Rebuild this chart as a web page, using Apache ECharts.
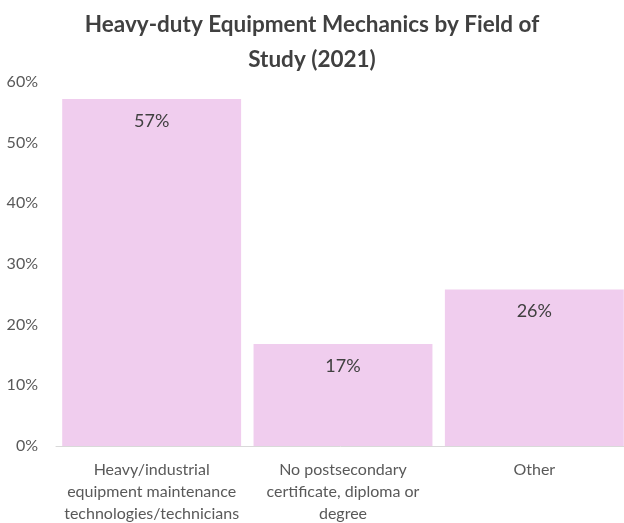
<!DOCTYPE html>
<html><head><meta charset="utf-8">
<script src="https://cdn.jsdelivr.net/npm/echarts@6/dist/echarts.min.js"></script>
<style>html,body{margin:0;padding:0;background:#fff}#c{width:624px;height:523px}</style>
</head><body><div id="c"></div>
<script>
const categories = ["Heavy/industrial\nequipment maintenance\ntechnologies/technicians", "No postsecondary\ncertificate, diploma or\ndegree", "Other"];
const values = [57.2, 16.8, 25.8];
const valueLabels = ["57%", "17%", "26%"];
const yTicks = [0, 10, 20, 30, 40, 50, 60];

const chart = echarts.init(document.getElementById('c'));
chart.setOption({
  animation: false,
  title: {
    text: "Heavy-duty Equipment Mechanics by Field of\nStudy (2021)",
    left: 'center', top: 2,
    textStyle: {fontFamily: 'Lato', fontWeight: 'bold', fontSize: 22.5, color: '#404040', lineHeight: 35}
  },
  grid: {left: 56, width: 574, top: 82, bottom: 77, outerBoundsMode: 'none', containLabel: false},
  xAxis: {
    type: 'category', data: categories,
    axisLine: {lineStyle: {color: '#D9D9D9', width: 1}},
    axisTick: {show: false},
    axisLabel: {color: '#595959', fontFamily: 'Lato', fontSize: 16, lineHeight: 22, margin: 13, interval: 0}
  },
  yAxis: {
    type: 'value', min: 0, max: 60, interval: 10,
    splitLine: {show: false},
    axisLine: {show: false}, axisTick: {show: false},
    axisLabel: {color: '#595959', fontFamily: 'Lato', fontSize: 16, margin: 18,
      formatter: v => yTicks.includes(v) ? v + '%' : ''}
  },
  series: [{
    type: 'bar', data: values, barCategoryGap: '6.5%',
    itemStyle: {color: '#F0CDEE'},
    label: {show: true, position: 'insideTop', distance: 13, color: '#404040', fontFamily: 'Lato', fontSize: 18,
      formatter: p => valueLabels[p.dataIndex]}
  }]
});
</script></body></html>
